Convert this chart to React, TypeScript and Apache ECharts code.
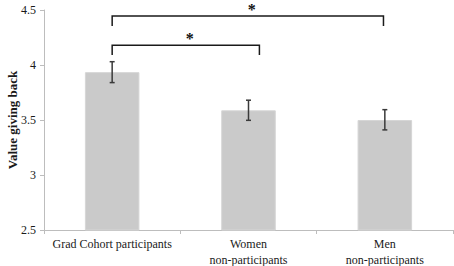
import React, { useEffect, useRef } from "react";
import * as echarts from "echarts";

const categories = ["Grad Cohort participants", "Women\nnon-participants", "Men\nnon-participants"];
const means = [3.935, 3.588, 3.5];
const errLow = [3.84, 3.497, 3.41];
const errHigh = [4.03, 3.68, 3.594];
// [fromCategory, toCategory, barY, legY, toShift(category units)]
const brackets = [
  [0, 2, 4.445, 4.355, -0.01],
  [0, 1, 4.18, 4.09, 0.08],
];
const yTicks = { min: 2.5, max: 4.5, interval: 0.5 };

const FONT = "'Liberation Serif', 'DejaVu Serif', serif";

export default function App() {
  const ref = useRef<HTMLDivElement>(null);
  useEffect(() => {
    const chart = echarts.init(ref.current!, null, { renderer: "svg" });
    chart.setOption({
      animation: false,
      backgroundColor: "#ffffff",
      grid: { left: 44, right: 1, top: 10, bottom: 36, containLabel: false, outerBoundsMode: "none" },
      xAxis: {
        type: "category",
        data: categories,
        axisLine: { lineStyle: { color: "#bdbdbd", width: 1 } },
        axisTick: { show: true, length: 4, lineStyle: { color: "#bdbdbd" } },
        axisLabel: {
          interval: 0,
          fontFamily: FONT,
          fontSize: 12,
          color: "#1a1a1a",
          lineHeight: 16,
          margin: 6,
        },
      },
      yAxis: {
        type: "value",
        min: yTicks.min,
        max: yTicks.max,
        interval: yTicks.interval,
        name: "Value giving back",
        nameLocation: "middle",
        nameGap: 25,
        nameMoveOverlap: false,
        nameRotate: 90,
        nameTextStyle: { fontFamily: FONT, fontSize: 13, fontWeight: "bold", color: "#1a1a1a" },
        axisLine: { show: true, lineStyle: { color: "#bdbdbd", width: 1 } },
        axisTick: { show: true, length: 4, lineStyle: { color: "#bdbdbd" } },
        splitLine: { show: false },
        axisLabel: {
          fontFamily: FONT,
          fontSize: 12,
          color: "#1a1a1a",
          margin: 8,
          formatter: (v: number) => String(v),
        },
      },
      series: [
        {
          type: "bar",
          data: means,
          barWidth: "40%",
          itemStyle: { color: "#cacaca", borderColor: "#d6d6d6", borderWidth: 1 },
        },
        {
          type: "custom",
          data: means.map((_, i) => [i, errLow[i], errHigh[i]]),
          encode: { x: 0, y: [1, 2] },
          z: 5,
          renderItem: (params: any, api: any) => {
            const lo = api.coord([api.value(0), api.value(1)]);
            const hi = api.coord([api.value(0), api.value(2)]);
            const hw = 2.5;
            const style = { stroke: "#3a3a3a", lineWidth: 1.5 };
            return {
              type: "group",
              children: [
                { type: "line", shape: { x1: lo[0], y1: lo[1], x2: hi[0], y2: hi[1] }, style },
                { type: "line", shape: { x1: lo[0] - hw, y1: lo[1], x2: lo[0] + hw, y2: lo[1] }, style },
                { type: "line", shape: { x1: hi[0] - hw, y1: hi[1], x2: hi[0] + hw, y2: hi[1] }, style },
              ],
            };
          },
        },
        {
          type: "custom",
          data: brackets,
          encode: { x: 0, y: 2 },
          clip: false,
          z: 6,
          renderItem: (params: any, api: any) => {
            const from = api.value(0);
            const to = api.value(1);
            const y = api.value(2);
            const yl = api.value(3);
            const shift = api.value(4);
            const band = api.size([1, 0])[0];
            const p1 = api.coord([from, y]);
            const p2 = api.coord([to, y]);
            const l1 = api.coord([from, yl]);
            const x2 = p2[0] + shift * band;
            const midX = (p1[0] + x2) / 2 + 4;
            return {
              type: "group",
              children: [
                {
                  type: "polyline",
                  shape: { points: [[p1[0], l1[1]], [p1[0], p1[1]], [x2, p1[1]], [x2, l1[1]]] },
                  style: { stroke: "#1a1a1a", lineWidth: 1.5, fill: null },
                },
                {
                  type: "text",
                  x: midX,
                  y: p1[1] - 15,
                  style: {
                    text: "*",
                    fontFamily: FONT,
                    fontSize: 16,
                    fontWeight: "bold",
                    fill: "#111",
                    align: "center",
                    verticalAlign: "top",
                  },
                },
              ],
            };
          },
        },
      ],
    });
    return () => chart.dispose();
  }, []);
  return (
    <div
      ref={ref}
      style={{ position: "fixed", left: 0, top: 0, width: 454, height: 266, background: "#fff" }}
    />
  );
}
